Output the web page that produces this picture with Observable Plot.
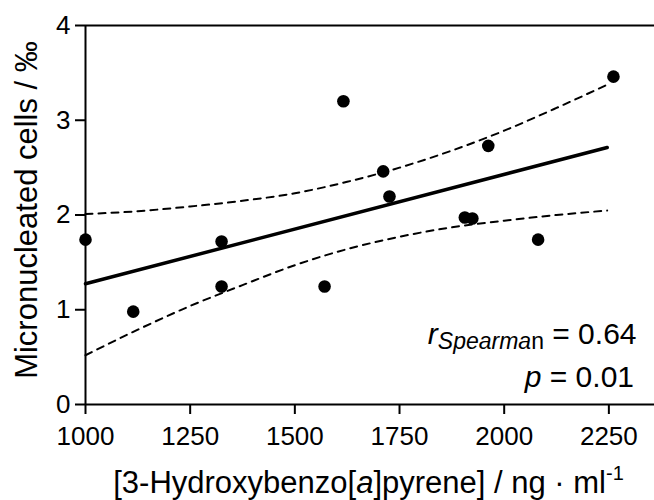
<!DOCTYPE html>
<html>
<head>
<meta charset="utf-8">
<script src="https://cdn.jsdelivr.net/npm/d3@7"></script>
<script src="https://cdn.jsdelivr.net/npm/@observablehq/plot@0.6"></script>
<style>
  html, body { margin: 0; padding: 0; background: #fff; }
  #chart { width: 654px; height: 500px; overflow: hidden; }
</style>
</head>
<body>
<div id="chart"></div>
<script>
// Data points
const hbpConc = [1000, 1114, 1325, 1325, 1571, 1616, 1711, 1726, 1906, 1924, 1962, 2081, 2261];
const mnCells = [1.74, 0.98, 1.72, 1.245, 1.245, 3.20, 2.46, 2.195, 1.974, 1.963, 2.73, 1.74, 3.46];

// Regression line (end points)
const fitX = [1000, 2246];
const fitY = [1.274, 2.713];

// 95% confidence band
const bandX = [1000, 1125, 1250, 1375, 1500, 1625, 1750, 1875, 2000, 2125, 2246];
const bandUpper = [2.01, 2.04, 2.09, 2.15, 2.23, 2.35, 2.50, 2.68, 2.89, 3.13, 3.375];
const bandLower = [0.52, 0.79, 1.04, 1.26, 1.47, 1.64, 1.77, 1.87, 1.94, 2.00, 2.047];

// Axis ticks
const xTicks = [1000, 1250, 1500, 1750, 2000, 2250];
const yTicks = [0, 1, 2, 3, 4];

const points = hbpConc.map((x, i) => ({x, y: mnCells[i]}));
const fit = fitX.map((x, i) => ({x, y: fitY[i]}));
const upper = bandX.map((x, i) => ({x, y: bandUpper[i]}));
const lower = bandX.map((x, i) => ({x, y: bandLower[i]}));

const FONT = "'Liberation Sans', Arial, Helvetica, sans-serif";

const chart = Plot.plot({
  width: 654,
  height: 500,
  marginLeft: 85,
  marginRight: 0,
  marginTop: 25,
  marginBottom: 96,
  style: {fontFamily: FONT, fontSize: "26px", color: "#000", background: "#fff", overflow: "visible"},
  x: {domain: [1000, 2359]},
  y: {domain: [0, 4]},
  marks: [
    Plot.axisX({ticks: xTicks, tickSize: 10, tickPadding: 12, strokeWidth: 2, fontSize: 26, tickFormat: d => String(d), label: null}),
    Plot.axisY({ticks: yTicks, tickSize: 10, tickPadding: 5, strokeWidth: 2, fontSize: 26, tickFormat: d => String(d), label: null}),
    Plot.ruleX([1000], {stroke: "#000", strokeWidth: 2}),
    Plot.ruleY([0], {stroke: "#000", strokeWidth: 2}),
    Plot.ruleY([4], {stroke: "#000", strokeWidth: 2}),
    Plot.line(upper, {x: "x", y: "y", stroke: "#000", strokeWidth: 2, strokeDasharray: "7,6", curve: "monotone-x"}),
    Plot.line(lower, {x: "x", y: "y", stroke: "#000", strokeWidth: 2, strokeDasharray: "7,6", curve: "monotone-x"}),
    Plot.line(fit, {x: "x", y: "y", stroke: "#000", strokeWidth: 3.5}),
    Plot.dot(points, {x: "x", y: "y", r: 6.3, fill: "#000", stroke: "none"})
  ]
});

document.getElementById("chart").appendChild(chart);

const svg = d3.select(chart);

// Y axis label
svg.append("text")
  .attr("transform", "translate(37,210) rotate(-90)")
  .attr("text-anchor", "middle")
  .attr("font-family", FONT)
  .attr("font-size", 31)
  .attr("fill", "#000")
  .text("Micronucleated cells / ‰");

// X axis label
const xl = svg.append("text")
  .attr("x", 368.5)
  .attr("y", 493)
  .attr("text-anchor", "middle")
  .attr("font-family", FONT)
  .attr("font-size", 31)
  .attr("fill", "#000");
xl.append("tspan").text("[3-Hydroxybenzo[");
xl.append("tspan").attr("font-style", "italic").text("a");
xl.append("tspan").text("]pyrene] / ng · ml");
xl.append("tspan").attr("font-size", 20).attr("dy", -13).text("-1");

// Statistics annotation
const t1 = svg.append("text")
  .attr("x", 636.5)
  .attr("y", 344)
  .attr("text-anchor", "end")
  .attr("font-family", FONT)
  .attr("font-size", 30)
  .attr("fill", "#000");
t1.append("tspan").attr("font-style", "italic").text("r");
t1.append("tspan").attr("font-style", "italic").attr("font-size", 23).attr("dy", 5).text("Spearma");
t1.append("tspan").attr("font-size", 23).text("n");
t1.append("tspan").attr("dy", -5).text(" = 0.64");

const t2 = svg.append("text")
  .attr("x", 634)
  .attr("y", 387)
  .attr("text-anchor", "end")
  .attr("font-family", FONT)
  .attr("font-size", 30)
  .attr("fill", "#000");
t2.append("tspan").attr("font-style", "italic").text("p");
t2.append("tspan").text(" = 0.01");
</script>
</body>
</html>
